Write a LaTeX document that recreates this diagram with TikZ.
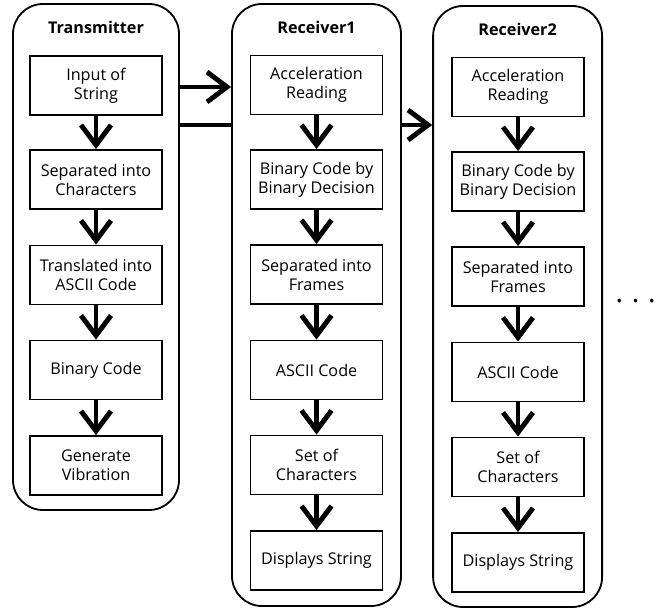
\documentclass[tikz,border=0pt]{standalone}
\usepackage{fontspec}
\setmainfont{Open Sans}
\usepackage{tikz}
\usetikzlibrary{positioning, arrows.meta}

\begin{document}
\begin{tikzpicture}[
  font=\fontsize{11.5}{13.5}\selectfont,
  unit/.style={draw, line width=1.3pt, rounded corners=0.75cm,
               minimum width=4.15cm, inner sep=0pt},
  stage/.style={draw, line width=1.3pt, minimum width=3.3cm,
                minimum height=1.475cm, align=center, fill=white},
  title/.style={font=\fontsize{11.5}{13}\selectfont\bfseries},
  arrow/.style={-{Straight Barb[length=0.5cm, width=0.75cm]}, line width=3.5pt},
  link/.style={line width=3.5pt}
]
\useasboundingbox (0,0) rectangle (16.675,-15.25);

% ── Containers ────────────────────────────────────────────
\node[unit, minimum height=12.65cm]                   (tx)  at (2.4,-6.425)     {};
\node[unit, minimum width=4.225cm, minimum height=15.05cm] (rx1) at (7.9125,-7.625) {};
\node[unit, minimum width=4.225cm, minimum height=15.025cm] (rx2) at (12.94,-7.6625) {};

\node[title] (txtitle)  at (2.4,-0.675)   {Transmitter};
\node[title] (rx1title) at (7.9125,-0.675) {Receiver1};
\node[title] (rx2title) at (12.94,-0.725)  {Receiver2};

% ── Transmitter ───────────────────────────────────────────
\node[stage] (txin)   at (2.4,-2.1375) {Input of\\String};
\node[stage] (txsep)  at (2.4,-4.4875) {Separated into\\Characters};
\node[stage] (txasc)  at (2.4,-6.875)  {Translated into\\ASCII Code};
\node[stage] (txbin)  at (2.4,-9.25)   {Binary Code};
\node[stage] (txvib)  at (2.4,-11.6375){Generate\\Vibration};

% ── Receiver1 ─────────────────────────────────────────────
\node[stage] (aacc)  at (7.9125,-2.125)  {Acceleration\\Reading};
\node[stage] (abin)  at (7.9125,-4.4875) {Binary Code by\\Binary Decision};
\node[stage] (afrm)  at (7.9125,-6.8625) {Separated into\\Frames};
\node[stage] (aasc)  at (7.9125,-9.25)   {ASCII Code};
\node[stage] (achr)  at (7.9125,-11.625) {Set of\\Characters};
\node[stage] (astr)  at (7.9125,-14.0125){Displays String};

% ── Receiver2 ─────────────────────────────────────────────
\node[stage] (bacc)  at (12.95,-2.175)  {Acceleration\\Reading};
\node[stage] (bbin)  at (12.95,-4.5375) {Binary Code by\\Binary Decision};
\node[stage] (bfrm)  at (12.95,-6.9125) {Separated into\\Frames};
\node[stage] (basc)  at (12.95,-9.3)    {ASCII Code};
\node[stage] (bchr)  at (12.95,-11.675) {Set of\\Characters};
\node[stage] (bstr)  at (12.95,-14.0625){Displays String};

% ── Arrows ────────────────────────────────────────────────
\draw[arrow] (txin)  -- (txsep);
\draw[arrow] (txsep) -- (txasc);
\draw[arrow] (txasc) -- (txbin);
\draw[arrow] (txbin) -- (txvib);

\draw[arrow] (aacc) -- (abin);
\draw[arrow] (abin) -- (afrm);
\draw[arrow] (afrm) -- (aasc);
\draw[arrow] (aasc) -- (achr);
\draw[arrow] (achr) -- (astr);

\draw[arrow] (bacc) -- (bbin);
\draw[arrow] (bbin) -- (bfrm);
\draw[arrow] (bfrm) -- (basc);
\draw[arrow] (basc) -- (bchr);
\draw[arrow] (bchr) -- (bstr);

% ── Between units ─────────────────────────────────────────
\coordinate (upper) at (0,-2.175);
\coordinate (lower) at (0,-3.125);
\draw[arrow] (tx.east |- upper)  -- (rx1.west |- upper);
\draw[link]  (tx.east |- lower)  -- (rx1.west |- lower);
\draw[arrow] (rx1.east |- lower) -- (rx2.west |- lower);

\node[font=\fontsize{20}{20}\selectfont, anchor=base] (more) at (15.89,-7.57)
  {.\hspace{0.22cm}.\hspace{0.22cm}.};

\end{tikzpicture}
\end{document}
